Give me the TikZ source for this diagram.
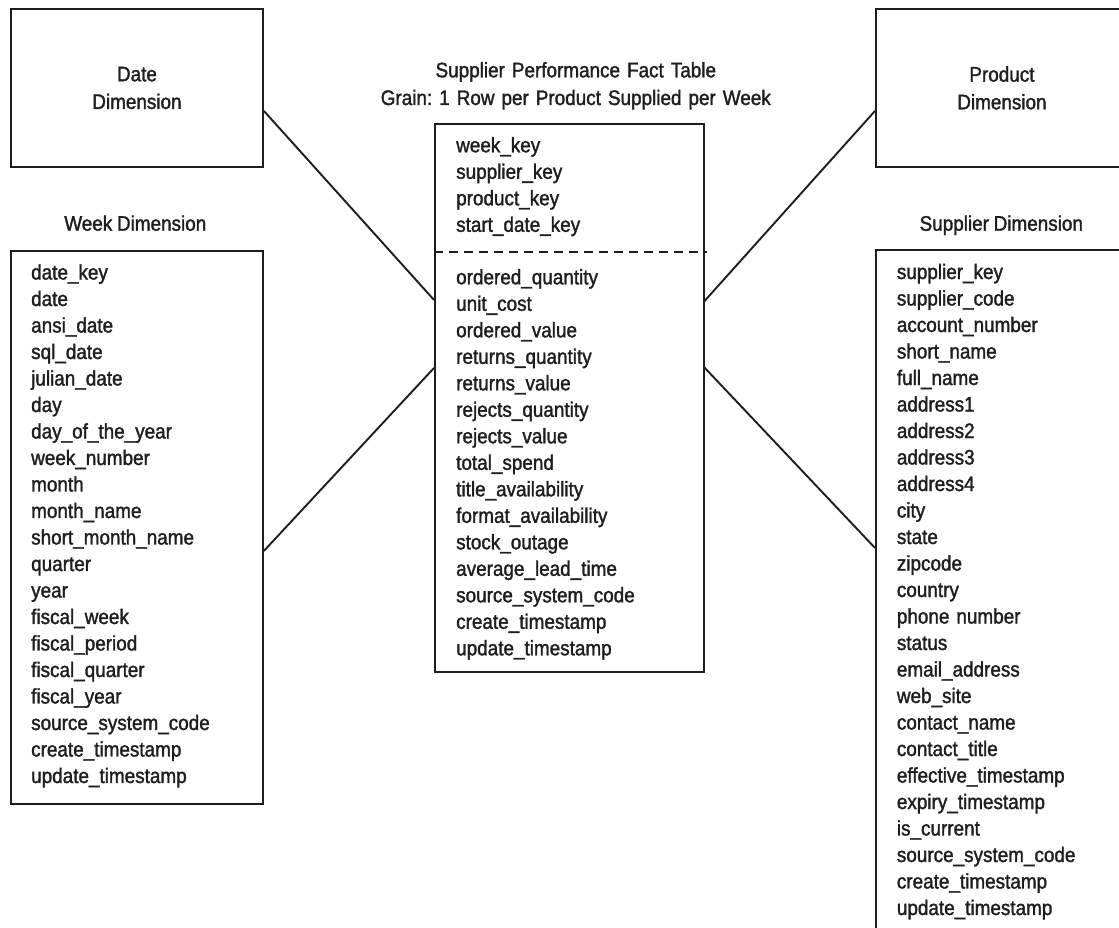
\documentclass[tikz,border=0pt]{standalone}
\usepackage{fontspec}
\setmainfont{Liberation Sans}[FakeStretch=0.9, FakeBold=1.5, WordSpace=0.9]
\frenchspacing
\definecolor{ink}{HTML}{1E1E1E}
\begin{document}
\begin{tikzpicture}[x=1pt,y=-1pt,
  every node/.style={text=ink, font=\fontsize{21}{26.5}\selectfont},
  dimbox/.style={draw=ink, line width=1.9pt, rectangle, inner sep=0pt, anchor=north west},
  fields/.style={anchor=base west, align=left, text width=240pt, inner sep=0pt},
  caption/.style={anchor=base, inner sep=0pt},
  link/.style={draw=ink, line width=1.9pt}]
\useasboundingbox[fill=white] (0,0) rectangle (1119,928);

% outline dimensions (no attribute list)
\node[dimbox, minimum width=252pt, minimum height=158pt, align=center,
      font=\fontsize{21}{27.7}\selectfont] (date) at (10,8) {Date\\Dimension};
\node[dimbox, minimum width=252pt, minimum height=158pt, align=center,
      font=\fontsize{21}{27.7}\selectfont] (product) at (875,8) {Product\\Dimension};

% table outlines
\node[dimbox, minimum width=252pt, minimum height=553pt] (week) at (10,250) {};
\node[dimbox, minimum width=268.7pt, minimum height=547.4pt] (fact) at (434,123.3) {};
\node[dimbox, minimum width=252pt, minimum height=700pt] (supplier) at (875,249.3) {};

% table captions
\node[caption] (weektitle) at (135.3,230.7) {Week Dimension};
\node[caption] (suppliertitle) at (1001.3,230.7) {Supplier Dimension};
\node[caption, text width=440pt, align=center, font=\fontsize{21}{27.7}\selectfont]
  (facttitle) at (575.8,77.3)
  {Supplier Performance Fact Table\\Grain: 1 Row per Product Supplied per Week};

% attribute lists
\node[fields] (weekfields) at (31,279.5) {date\_key\\date\\ansi\_date\\sql\_date\\julian\_date\\day\\day\_of\_the\_year\\week\_number\\month\\month\_name\\short\_month\_name\\quarter\\year\\fiscal\_week\\fiscal\_period\\fiscal\_quarter\\fiscal\_year\\source\_system\_code\\create\_timestamp\\update\_timestamp};

\node[fields] (factkeys) at (456,152.3) {week\_key\\supplier\_key\\product\_key\\start\_date\_key};

\node[fields] (factmeasures) at (456,284.3) {ordered\_quantity\\unit\_cost\\ordered\_value\\returns\_quantity\\returns\_value\\rejects\_quantity\\rejects\_value\\total\_spend\\title\_availability\\format\_availability\\stock\_outage\\average\_lead\_time\\source\_system\_code\\create\_timestamp\\update\_timestamp};

\node[fields] (supplierfields) at (896.7,279) {supplier\_key\\supplier\_code\\account\_number\\short\_name\\full\_name\\address1\\address2\\address3\\address4\\city\\state\\zipcode\\country\\phone number\\status\\email\_address\\web\_site\\contact\_name\\contact\_title\\effective\_timestamp\\expiry\_timestamp\\is\_current\\source\_system\_code\\create\_timestamp\\update\_timestamp};

% key / measure divider
\draw[ink, line width=1.6pt, dash pattern=on 9pt off 6pt]
  ([yshift=146pt]fact.west) -- ([yshift=146pt, xshift=2pt]fact.east);

% joins to the fact table
\draw[link] ([yshift=-23pt]date.east) -- ([yshift=98pt]fact.west);
\draw[link] ([yshift=-23.5pt]week.east) -- ([yshift=30pt]fact.west);
\draw[link] ([yshift=-23pt]product.west) -- ([yshift=97pt]fact.east);
\draw[link] ([yshift=52.3pt]supplier.west) -- ([yshift=30.3pt]fact.east);
\end{tikzpicture}
\end{document}
